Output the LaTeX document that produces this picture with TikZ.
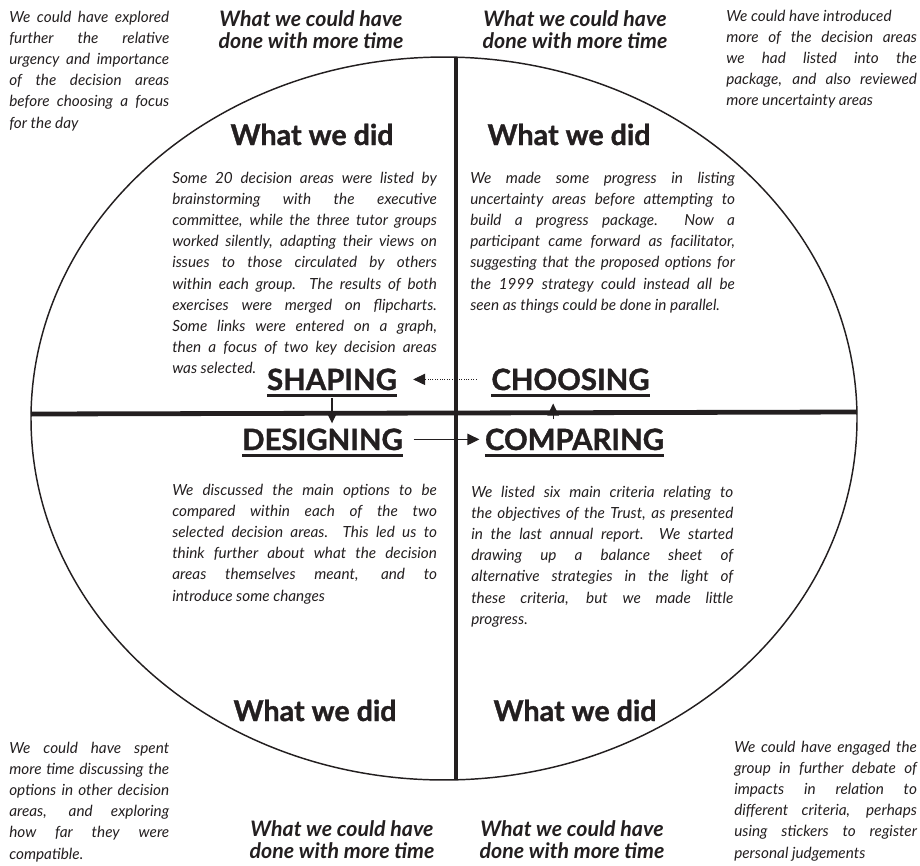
\documentclass[tikz,border=0pt]{standalone}
\usepackage{fontspec}
\setmainfont{Lato}
\newfontfamily\headfont{Lato}[BoldFeatures={FakeBold=1.2}]
\usetikzlibrary{arrows.meta}
\definecolor{ink}{RGB}{35,31,32}
\tolerance=9999
\hbadness=10000
\tikzset{
  note/.style={anchor=base west, inner sep=0pt, align=justify, text=ink,
    font=\fontsize{11.5}{15.9}\selectfont\itshape},
  moretime/.style={anchor=base, inner sep=0pt, align=center, text=ink,
    font=\fontsize{16}{15.9}\selectfont\bfseries\itshape},
  didhead/.style={anchor=base, inner sep=0pt, text=ink,
    font=\fontsize{21.5}{24}\selectfont\headfont\bfseries},
  stage/.style={anchor=base, inner xsep=0pt, inner ysep=3.75pt, text=ink,
    font=\fontsize{22}{24}\selectfont\headfont\bfseries},
  underbar/.style={line width=2pt, color=ink},
  rim/.style={line width=1.1pt, color=ink},
  axis/.style={line width=3.6pt, color=ink},
  flowarrow/.style={-{Triangle[length=9pt,width=8.5pt]}, line width=0.9pt, color=ink},
  dotarrow/.style={flowarrow, dash pattern=on 0.7pt off 1.1pt, line width=0.6pt}
}

\begin{document}
\begin{tikzpicture}[x=0.75pt, y=-0.75pt]
  \useasboundingbox (0,0) rectangle (920,865);

  % the oval and the two axes
  \draw[rim] (444,418.5) ellipse [x radius=309.75pt, y radius=271.1pt];
  \draw[axis] (456,57) -- (456,780);
  \draw[axis] (31,414) -- (857,412);

  % what we could have done with more time
  \node[moretime] (mtTL) at (311,48) {What we could have\\done with more time};
  \node[moretime] (mtTR) at (575,48) {What we could have\\done with more time};
  \node[moretime] (mtBL) at (342,858) {What we could have\\done with more time};
  \node[moretime] (mtBR) at (572,858) {What we could have\\done with more time};

  \node[note, text width=120pt] (cTL) at (9,22) {We could have explored \linebreak further the relative \linebreak urgency and importance \linebreak of the decision areas \linebreak before choosing a focus \linebreak for the day};
  \node[note, text width=143pt] (cTR) at (726,21) {We could have introduced\newline more of the decision areas \linebreak we had listed into the \linebreak package, and also reviewed \linebreak more uncertainty areas};
  \node[note, text width=120pt] (cBL) at (9,753) {We could have spent \linebreak more time discussing the \linebreak options in other decision \linebreak areas, and exploring \linebreak how far they were \linebreak compatible.};
  \node[note, text width=137pt] (cBR) at (734,752) {We could have engaged the \linebreak group in further debate of \linebreak impacts in relation to \linebreak different criteria, perhaps \linebreak using stickers to register \linebreak personal judgements};

  % what we did
  \node[didhead] (dTL) at (312,145) {What we did};
  \node[didhead] (dTR) at (569,145) {What we did};
  \node[didhead] (dBL) at (315,721) {What we did};
  \node[didhead] (dBR) at (575,721) {What we did};

  \node[note, text width=198.5pt] (bTL) at (172,183) {Some 20 decision areas were listed by \linebreak brainstorming with the executive \linebreak committee, while the three tutor groups \linebreak worked silently, adapting their views on \linebreak issues to those circulated by others \linebreak within each group.\ \ The results of both \linebreak exercises were merged on flipcharts. \linebreak Some links were entered on a graph, \linebreak then a focus of two key decision areas \linebreak was selected.};
  \node[note, text width=198.5pt] (bTR) at (470,183) {We made some progress in listing \linebreak uncertainty areas before attempting to \linebreak build a progress package.\ \ Now a \linebreak participant came forward as facilitator, \linebreak suggesting that the proposed options for \linebreak the 1999 strategy could instead all be \linebreak seen as things could be done in parallel.};
  \node[note, text width=198.5pt] (bBL) at (172,495) {We discussed the main options to be \linebreak compared within each of the two \linebreak selected decision areas.\ \ This led us to \linebreak think further about what the decision \linebreak areas themselves meant, and to \linebreak introduce some changes};
  \node[note, text width=196.5pt] (bBR) at (471,497) {We listed six main criteria relating to \linebreak the objectives of the Trust, as presented \linebreak in the last annual report.\ \ We started \linebreak drawing up a balance sheet of \linebreak alternative strategies in the light of \linebreak these criteria, but we made little \linebreak progress.};

  % the four modes
  \node[stage] (shp) at (332,390) {SHAPING};
  \node[stage] (chs) at (570.5,390) {CHOOSING};
  \node[stage] (dsg) at (322.5,450) {DESIGNING};
  \node[stage] (cmp) at (574.5,450) {COMPARING};
  \foreach \s in {shp,chs,dsg,cmp}
    \draw[underbar] (\s.south west) -- (\s.south east);

  \draw[dotarrow, shorten <=11pt, shorten >=12pt] (chs.west) -- (shp.east);
  \draw[flowarrow, shorten <=2pt] (shp.south) -- (shp.south |- dsg.north);
  \draw[flowarrow, shorten <=8pt, shorten >=4pt] (dsg.east) -- (cmp.west);
  \draw[flowarrow, shorten <=3pt, shorten >=6pt] ([xshift=-16pt]cmp.north) -- ([xshift=-16pt]cmp.north |- chs.south);
\end{tikzpicture}
\end{document}
